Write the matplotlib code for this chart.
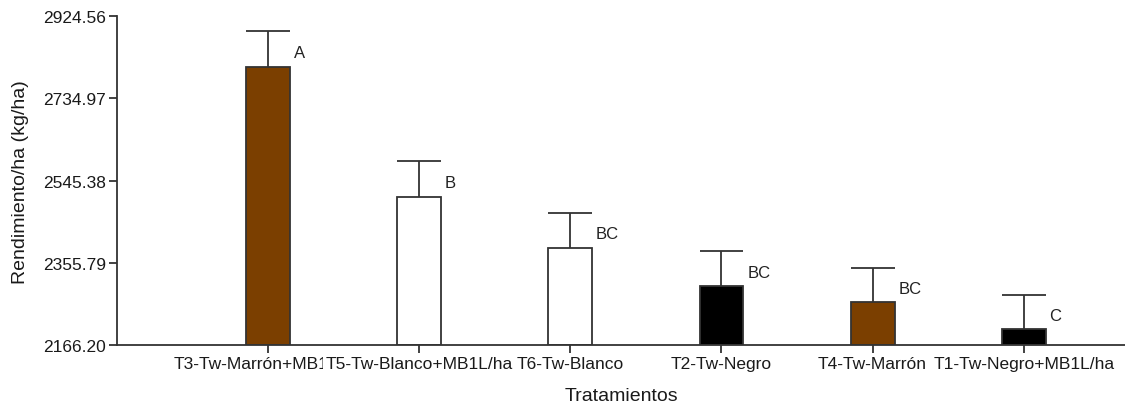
import matplotlib
matplotlib.use("Agg")
import matplotlib.pyplot as plt
from matplotlib.transforms import Bbox

plt.rcParams['font.family'] = ['Liberation Sans', 'DejaVu Sans']

categories = ["T3-Tw-Marrón+MB1L/ha", "T5-Tw-Blanco+MB1L/ha", "T6-Tw-Blanco",
              "T2-Tw-Negro", "T4-Tw-Marrón", "T1-Tw-Negro+MB1L/ha"]
means = [2808, 2508, 2391, 2302, 2265, 2203]
errors = [82, 82, 81, 81, 80, 80]
letters = ["A", "B", "BC", "BC", "BC", "C"]
colors = ["#7B3F00", "#FFFFFF", "#FFFFFF", "#000000", "#7B3F00", "#000000"]
yticks = [2166.20, 2355.79, 2545.38, 2734.97, 2924.56]

fig = plt.figure(figsize=(11.25, 4.06), dpi=100)
ax = fig.add_axes([0.104, 0.147, 0.896, 0.811])

x = list(range(len(categories)))
bw = 0.29
ax.bar(x, [m - yticks[0] for m in means], bottom=yticks[0], width=bw,
       color=colors, edgecolor="#333333", linewidth=1.3, zorder=2)
ax.errorbar(x, means, yerr=[[0]*len(errors), errors], fmt="none",
            ecolor="#333333", elinewidth=1.3, capsize=0, zorder=3)
tops = [m + e for m, e in zip(means, errors)]
ax.hlines(tops, [xi - bw/2 for xi in x], [xi + bw/2 for xi in x],
          colors="#333333", linewidth=1.3, zorder=3)
for xi, m, e, l in zip(x, means, errors, letters):
    ax.text(xi + 0.17, m + e * 0.4, l, ha="left", va="center",
            fontsize=12, color="#222222")

ax.set_xlim(-1, 5.67)
ax.set_ylim(yticks[0], yticks[-1])
ax.set_yticks(yticks)
ax.set_yticklabels([f"{v:.2f}" for v in yticks])
ax.set_xticks(x)
ax.set_xticklabels(categories)
for s in ["top", "right"]:
    ax.spines[s].set_visible(False)
for s in ["left", "bottom"]:
    ax.spines[s].set_color("#333333")
    ax.spines[s].set_linewidth(1.3)
ax.tick_params(axis="both", direction="out", length=6, width=1.3, color="#333333",
               labelsize=12.5, labelcolor="#1a1a1a", pad=2)
ax.set_ylabel("Rendimiento/ha (kg/ha)", fontsize=14, color="#1a1a1a", labelpad=10)
ax.set_xlabel("Tratamientos", fontsize=14, color="#1a1a1a", labelpad=11)

# clip first label like the reference (overlapped by neighbour)
fig.canvas.draw()
lab0 = ax.get_xticklabels()[0]
lab1 = ax.get_xticklabels()[1]
bb1 = lab1.get_window_extent()
lab0.set_clip_box(Bbox([[0, 0], [bb1.x0 - 3, fig.bbox.height]]))
lab0.set_clip_on(True)

fig.savefig("out.png", dpi=100)
